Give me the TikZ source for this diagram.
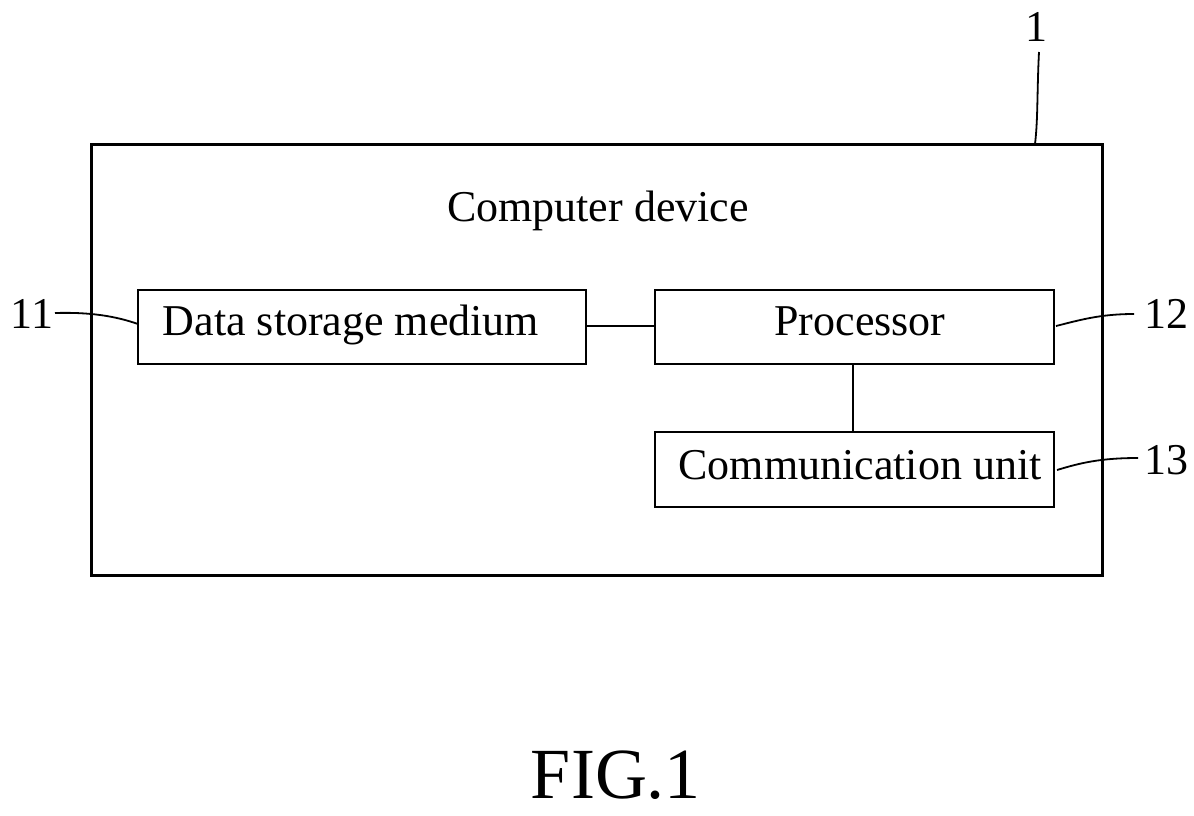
\documentclass[tikz,border=0pt]{standalone}
\usepackage{fontspec}
\setmainfont{Liberation Serif}
\begin{document}
\begin{tikzpicture}[x=0.5pt,y=-0.5pt,
  box/.style={draw, line width=1pt, inner sep=0pt},
  lbl/.style={font=\fontsize{22}{26}\selectfont, inner sep=0pt, anchor=base},
  lead/.style={line width=0.9pt}]
\useasboundingbox (0,0) rectangle (1194,815);
\node[draw, line width=1.5pt, minimum width=505.5pt, minimum height=215.5pt, inner sep=0pt] (outer) at (596.5,359.5) {};
\node[lbl] (title) at (598,221) {Computer device};
\node[box, minimum width=224pt, minimum height=37pt] (ds) at (362,327) {};
\node[box, minimum width=199.5pt, minimum height=37pt] (proc) at (854.5,327) {};
\node[box, minimum width=199.5pt, minimum height=37.5pt] (comm) at (854.5,469.5) {};
\node[lbl] (tds) at (351,335) {Data storage medium};
\node[lbl] (tproc) at (860,335) {Processor};
\node[lbl] (tcomm) at (860,479) {Communication unit};
\draw[line width=1pt] (ds.east |- 0,326) -- (proc.west |- 0,326);
\draw[line width=1pt] (853,364) coordinate (p1) -- (853,432) coordinate (p2);
\node[lbl] (n1) at (1036,41) {1};
\node[lbl] (n11) at (32,328) {11};
\node[lbl] (n12) at (1166,328) {12};
\node[lbl] (n13) at (1166,474) {13};
\coordinate (a1) at (1039,52);
\coordinate (b1) at (1035,144);
\draw[lead] (a1) .. controls (1037,90) and (1038,120) .. (b1);
\coordinate (a11) at (55,313);
\coordinate (b11) at (138,324);
\draw[lead] (a11) .. controls (90,312) and (115,316) .. (b11);
\coordinate (a12) at (1134,314);
\coordinate (b12) at (1056,326);
\draw[lead] (a12) .. controls (1100,314) and (1080,320) .. (b12);
\coordinate (a13) at (1138,458);
\coordinate (b13) at (1057,470);
\draw[lead] (a13) .. controls (1100,458) and (1080,463) .. (b13);
\node[font=\fontsize{36}{42}\selectfont, inner sep=0pt, text depth=0pt, anchor=base] (fig) at (616,798) {FIG.1};
\end{tikzpicture}
\end{document}
